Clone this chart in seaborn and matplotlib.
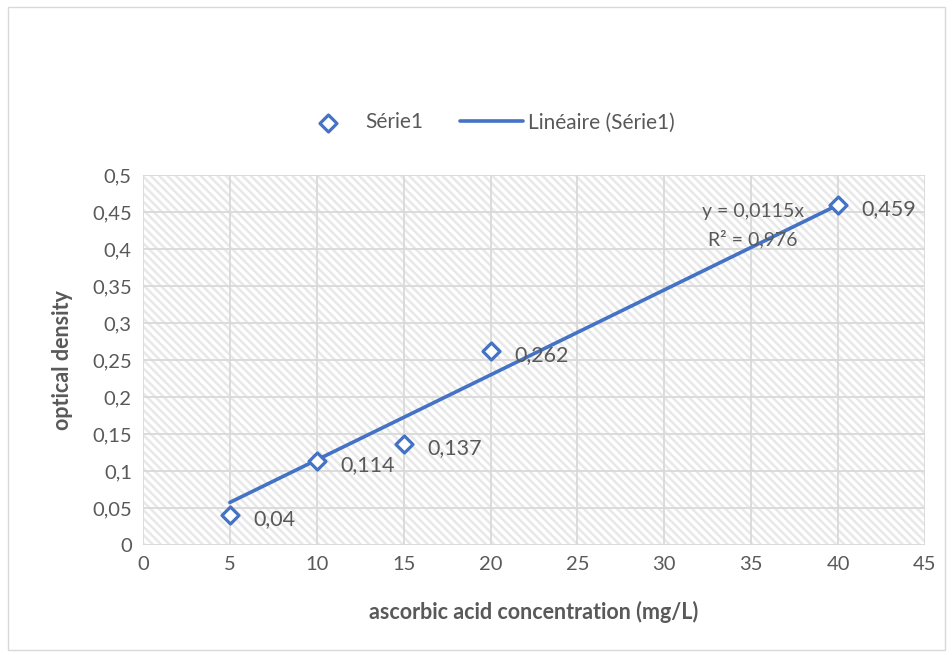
import matplotlib
matplotlib.use("Agg")
import matplotlib.pyplot as plt
import seaborn as sns
import numpy as np
import pandas as pd
from matplotlib.patches import Rectangle

# Data
concentration = [5, 10, 15, 20, 40]
optical_density = [0.04, 0.114, 0.137, 0.262, 0.459]
point_labels = ["0,04", "0,114", "0,137", "0,262", "0,459"]
x_ticks = [0, 5, 10, 15, 20, 25, 30, 35, 40, 45]
y_ticks = [0, 0.05, 0.1, 0.15, 0.2, 0.25, 0.3, 0.35, 0.4, 0.45, 0.5]
equation_text = "y = 0,0115x"
r2_text = "R² = 0,976"

sns.set_theme(style="white")
plt.rcParams['font.family'] = ['Lato', 'DejaVu Sans']

blue = "#4472C4"
txt = "#595959"
grid = "#d9d9d9"

df = pd.DataFrame({"x": concentration, "y": optical_density})
# linear fit through origin
slope = np.sum(df.x * df.y) / np.sum(df.x ** 2)
fit = pd.DataFrame({"x": [min(concentration), max(concentration)]})
fit["y"] = slope * fit.x

fig = plt.figure(figsize=(9.53, 6.55), dpi=100)
ax = fig.add_axes([0.150, 0.168, 0.8206, 0.565])

# chart border
fig.patches.append(Rectangle((0.008, 0.008), 0.984, 0.982, transform=fig.transFigure,
                             fill=False, edgecolor="#d9d9d9", linewidth=1.0))

# hatched background
plt.rcParams['hatch.linewidth'] = 1.8
ax.add_patch(Rectangle((0, 0), 1, 1, transform=ax.transAxes, facecolor="white",
                       edgecolor="#e8e8e8", hatch="\\\\\\\\", linewidth=0, zorder=0))

ax.set_xlim(0, 45)
ax.set_ylim(0, 0.5)
ax.set_xticks(x_ticks)
ax.set_yticks(y_ticks)
ax.set_xticklabels([str(v) for v in x_ticks])
ax.set_yticklabels([("%g" % v).replace(".", ",") for v in y_ticks])
ax.grid(True, color=grid, linewidth=1.3, zorder=1)
ax.set_axisbelow(True)
for s in ax.spines.values():
    s.set_visible(False)
ax.tick_params(axis="both", colors=txt, labelsize=14.5, length=0, pad=8)

sns.lineplot(data=fit, x="x", y="y", ax=ax, color=blue, linewidth=2.6,
             label="Linéaire (Série1)", zorder=3)
sns.scatterplot(data=df, x="x", y="y", ax=ax, marker="D", s=75,
                facecolor="white", edgecolor=blue, linewidth=2.3,
                label="Série1", zorder=4)

for xv, yv, lab in zip(concentration, optical_density, point_labels):
    ax.annotate(lab, (xv, yv), xytext=(17, -3), textcoords="offset points",
                ha="left", va="center", fontsize=15.5, color=txt, zorder=5)

ax.text(35.1, 0.451, equation_text, ha="center", va="center", fontsize=14, color=txt, zorder=5)
ax.text(35.1, 0.4135, r2_text, ha="center", va="center", fontsize=14, color=txt, zorder=5)

ax.set_xlabel("ascorbic acid concentration (mg/L)", fontsize=15.5, fontweight="bold",
              color=txt, labelpad=20)
ax.set_ylabel("optical density", fontsize=15.5, fontweight="bold", color=txt, labelpad=14)

handles, labels = ax.get_legend_handles_labels()
order = [labels.index("Série1"), labels.index("Linéaire (Série1)")]
leg = ax.legend([handles[i] for i in order], [labels[i] for i in order],
                loc="center", bbox_to_anchor=(0.51, 0.813), bbox_transform=fig.transFigure,
                ncol=2, frameon=False, fontsize=15, handlelength=3.0, columnspacing=1.8,
                handletextpad=0.25)
for t in leg.get_texts():
    t.set_color(txt)

fig.savefig("out.png", dpi=100)
